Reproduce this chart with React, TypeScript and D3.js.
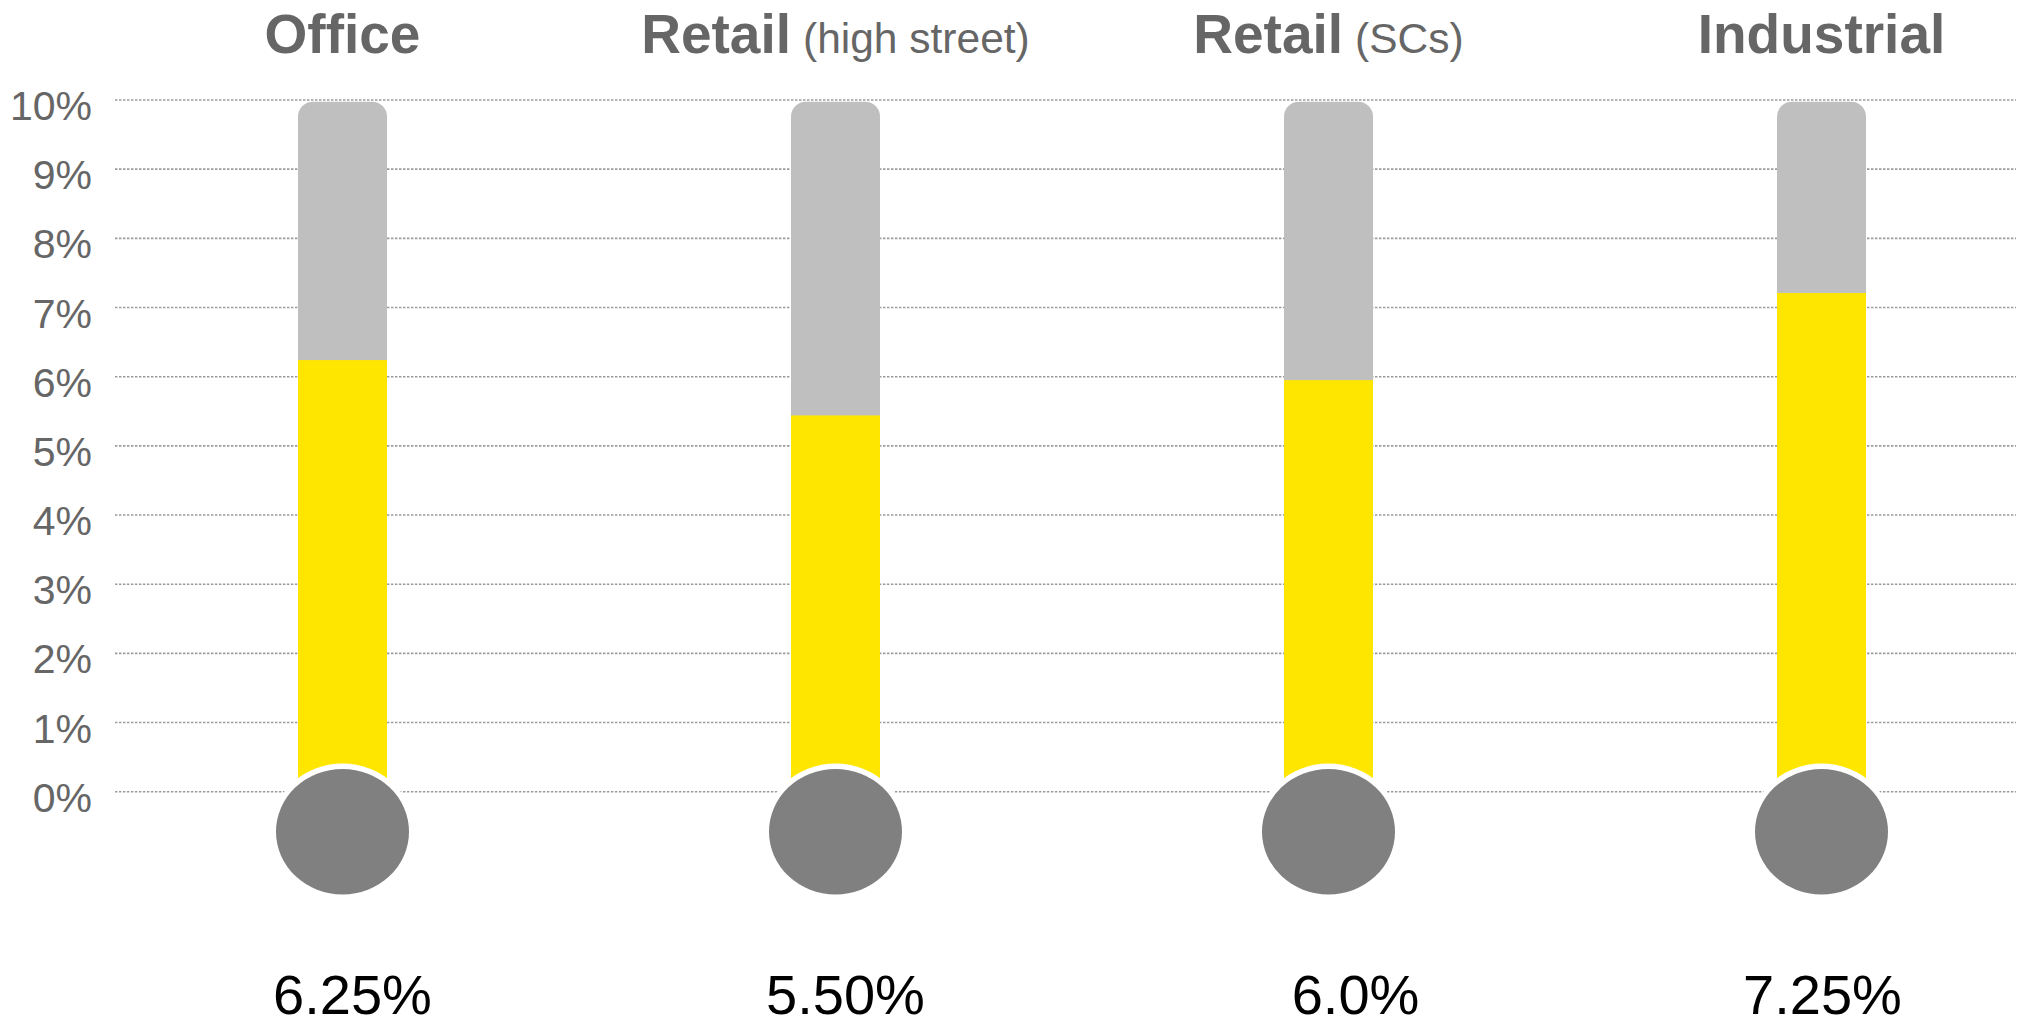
import React from "react";
import * as d3 from "d3";

const categories = ["Office", "Retail (high street)", "Retail (SCs)", "Industrial"];
const titleMain = ["Office", "Retail", "Retail", "Industrial"];
const titleSub = ["", "(high street)", "(SCs)", ""];
const fillValues = [6.24, 5.44, 5.95, 7.21];
const valueLabels = ["6.25%", "5.50%", "6.0%", "7.25%"];
const yTicks = [0, 1, 2, 3, 4, 5, 6, 7, 8, 9, 10];

// layout constants
const W = 2026;
const H = 1023;
const labelDx = [10, 10, 27, 1];

export default function App() {
  const x = d3.scalePoint<string>().domain(categories).range([342.5, 1821.5]);
  const y = d3.scaleLinear().domain([0, 10]).range([791.7, 100]);
  const barW = 89;
  const r = 15;
  const bulbCy = y(0) + 40;
  const bulbRx = 66.5;
  const bulbRy = 62.7;
  const font = "'Liberation Sans', Arial, sans-serif";

  const greyPath = (cx: number) => {
    const p = d3.path();
    const x0 = cx - barW / 2;
    const x1 = cx + barW / 2;
    const top = y(10) + 1.7;
    p.moveTo(x0, bulbCy);
    p.lineTo(x0, top + r);
    p.arcTo(x0, top, x0 + r, top, r);
    p.lineTo(x1 - r, top);
    p.arcTo(x1, top, x1, top + r, r);
    p.lineTo(x1, bulbCy);
    p.closePath();
    return p.toString();
  };

  return (
    <div style={{ position: "absolute", left: 0, top: 0 }}>
      <svg width={W} height={H} style={{ display: "block", background: "#fff" }}>
        {yTicks.map((t) => (
          <line
            key={"g" + t}
            x1={115}
            x2={2016}
            y1={y(t)}
            y2={y(t)}
            stroke="#9a9a9a"
            strokeWidth={1.6}
            strokeDasharray="2.4,1.6"
          />
        ))}
        {yTicks.map((t) => (
          <text
            key={"t" + t}
            x={92}
            y={y(t) + 20}
            textAnchor="end"
            fontFamily={font}
            fontSize={41}
            fill="#666666"
          >
            {t + "%"}
          </text>
        ))}
        {categories.map((c, i) => {
          const cx = x(c) as number;
          return (
            <g key={c}>
              <path d={greyPath(cx)} fill="#bfbfbf" />
              <rect
                x={cx - barW / 2}
                y={y(fillValues[i])}
                width={barW}
                height={bulbCy - y(fillValues[i])}
                fill="#ffe600"
              />
              <ellipse cx={cx} cy={bulbCy} rx={bulbRx + 5.5} ry={bulbRy + 5.5} fill="#ffffff" />
              <ellipse cx={cx} cy={bulbCy} rx={bulbRx} ry={bulbRy} fill="#808080" />
              <text
                x={cx}
                y={53}
                textAnchor="middle"
                fontFamily={font}
                fill="#666666"
              >
                <tspan fontWeight="bold" fontSize={55}>{titleMain[i]}</tspan>
                {titleSub[i] ? (
                  <tspan fontSize={42.5} dx={12}>{titleSub[i]}</tspan>
                ) : null}
              </text>
              <text
                x={cx + labelDx[i]}
                y={1014}
                textAnchor="middle"
                fontFamily={font}
                fontSize={56}
                fill="#000000"
              >
                {valueLabels[i]}
              </text>
            </g>
          );
        })}
      </svg>
    </div>
  );
}
